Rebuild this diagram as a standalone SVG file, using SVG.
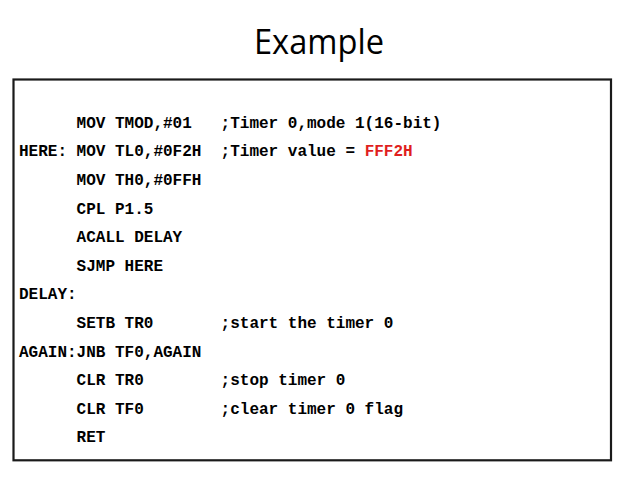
<svg xmlns="http://www.w3.org/2000/svg" width="638" height="479" viewBox="0 0 638 479">
<style>
.title{font-family:"Open Sans","Noto Sans","Liberation Sans",sans-serif;font-size:35px;fill:#000;}
.code{font-family:"Liberation Mono","Courier New",monospace;font-size:16px;font-weight:bold;fill:#000;}
.red{fill:#e01e1e;}
.box{fill:none;stroke:#1a1a1a;stroke-width:2.2;}
</style>
<rect width="638" height="479" fill="#fff"/>
<g id="title">
<text class="title" x="319" y="54.3" text-anchor="middle" textLength="130" lengthAdjust="spacingAndGlyphs">Example</text>
</g>
<g id="codebox">
<rect class="box" x="13.5" y="79.5" width="597.5" height="380.8"/>
</g>
<g id="labels">
<text class="code" x="19" y="156.3">HERE:</text>
<text class="code" x="19" y="299.3">DELAY:</text>
<text class="code" x="19" y="356.5">AGAIN:</text>
</g>
<g id="instructions">
<text class="code" x="76.6" y="127.7">MOV TMOD,#01</text>
<text class="code" x="76.6" y="156.3">MOV TL0,#0F2H</text>
<text class="code" x="76.6" y="184.9">MOV TH0,#0FFH</text>
<text class="code" x="76.6" y="213.5">CPL P1.5</text>
<text class="code" x="76.6" y="242.1">ACALL DELAY</text>
<text class="code" x="76.6" y="270.7">SJMP HERE</text>
<text class="code" x="76.6" y="327.9">SETB TR0</text>
<text class="code" x="76.6" y="356.5">JNB TF0,AGAIN</text>
<text class="code" x="76.6" y="385.1">CLR TR0</text>
<text class="code" x="76.6" y="413.7">CLR TF0</text>
<text class="code" x="76.6" y="442.3">RET</text>
</g>
<g id="comments">
<text class="code" x="220.6" y="127.7">;Timer 0,mode 1(16-bit)</text>
<text class="code" x="220.6" y="156.3" xml:space="preserve">;Timer value = <tspan class="red">FFF2H</tspan></text>
<text class="code" x="220.6" y="327.9">;start the timer 0</text>
<text class="code" x="220.6" y="385.1">;stop timer 0</text>
<text class="code" x="220.6" y="413.7">;clear timer 0 flag</text>
</g>
</svg>
